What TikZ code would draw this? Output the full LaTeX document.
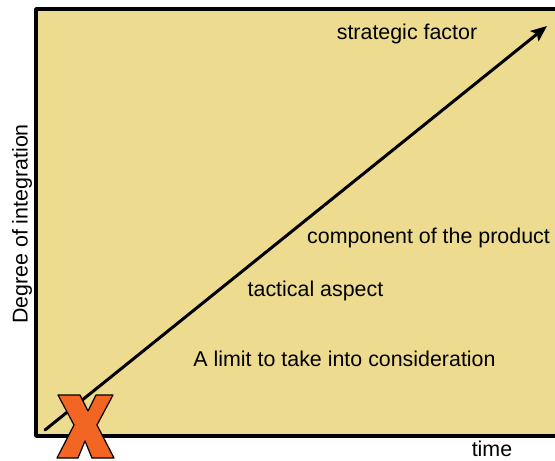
\documentclass[tikz,border=0pt]{standalone}
\usepackage{fontspec}
\setmainfont{Liberation Sans}
\usetikzlibrary{arrows.meta}

\tikzset{
  txt/.style={font=\fontsize{21.4}{25}\selectfont,inner sep=0pt,anchor=base},
}

\begin{document}
\begin{tikzpicture}[x=1pt,y=-1pt,line cap=round,line join=round]
  \useasboundingbox (0,0) rectangle (555,461);
  \coordinate (TL) at (36,9);
  \coordinate (BR) at (555,436);
  \coordinate (S) at (45,430);
  \coordinate (E) at (547,26);
  \fill[fill={rgb,255:red,237;green,219;blue,143}] (TL) rectangle (BR);
  \draw[line width=3.5pt,line cap=butt] (555,9)--(TL)--(36,436)--(BR);
  \draw[line width=3pt,-{Stealth[length=16pt,width=13pt,inset=3pt]}] (S)--(E);
  \node[txt] (strat) at (407,39) {strategic factor};
  \node[txt] (comp) at (428.5,243) {component of the product};
  \node[txt] (tact) at (315.5,296) {tactical aspect};
  \node[txt] (limit) at (344.5,366) {A limit to take into consideration};
  \node[txt] (time) at (492,456.5) {time};
  \node[txt,anchor=center,rotate=90] (deg) at (22,224) {Degree of integration};
  % cross mark
  \draw[line width=1.2pt,fill={rgb,255:red,242;green,101;blue,34}]
    (58,395)--(80,395)--(88,411)--(96,395)--(113,395)--(97,425)--(114,458)
    --(92,458)--(85,441)--(78,458)--(57,458)--(74,425)--cycle;
\end{tikzpicture}
\end{document}
